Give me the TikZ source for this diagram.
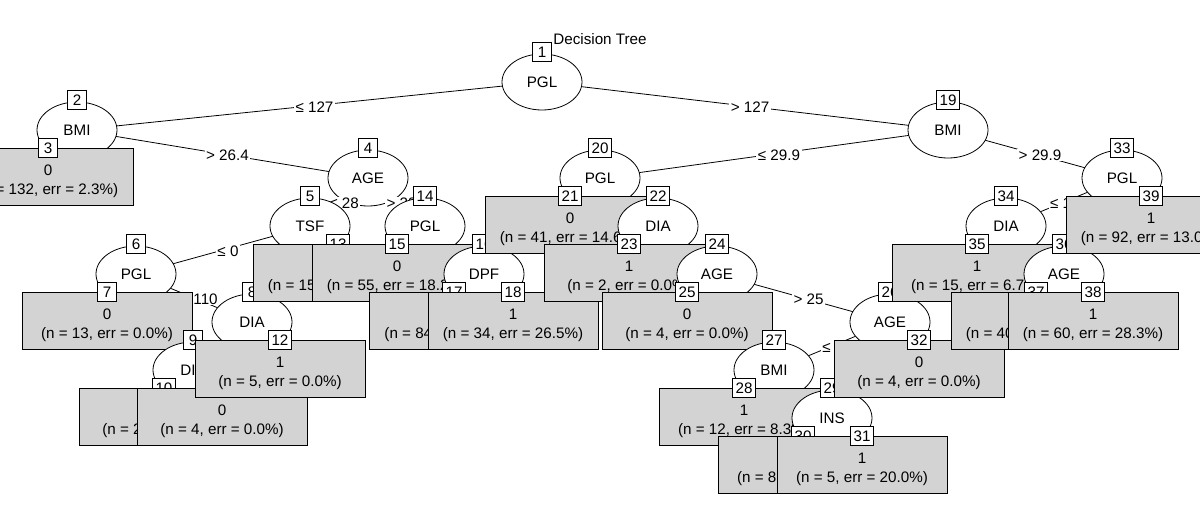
\documentclass[tikz,border=0pt]{standalone}
\usepackage{fontspec}
\setmainfont{Liberation Sans}
\usetikzlibrary{shapes.geometric,calc}
\definecolor{termgray}{HTML}{D3D3D3}
\tikzset{
 base/.style={font=\fontsize{15.2}{18}\selectfont},
 ell/.style={base, ellipse, draw, fill=white, line width=0.8pt, minimum width=80pt, minimum height=56pt, inner sep=0pt},
 idbox/.style={base, draw, fill=white, line width=0.8pt, inner xsep=3pt, inner ysep=0pt, minimum width=19pt, minimum height=19pt},
 tbox/.style={draw, fill=termgray, line width=0.8pt, minimum width=170pt, minimum height=57pt, inner sep=0pt},
 ttext/.style={base, inner sep=0pt, anchor=base},
 elabel/.style={base, fill=white, inner xsep=1.5pt, inner ysep=1pt},
 edgeline/.style={line width=0.8pt},
}
\newcommand\splitnode[2]{\node[ell] (n#1) at (c#1) {#2}; \node[idbox] (id#1) at ($(c#1)+(0,30)$) {#1};}
\newcommand\leafnode[3]{\node[tbox] (n#1) at ($(c#1)+(0,1.5)$) {}; \node[idbox] (id#1) at ($(c#1)+(0,30)$) {#1};
  \node[ttext] (k#1) at ($(c#1)+(0,2.5)$) {#2}; \node[ttext] (s#1) at ($(c#1)+(0,-16.5)$) {#3};}
\newcommand\leafhid[2]{\node[tbox] (n#1) at ($(c#1)+(0,1.5)$) {}; \node[idbox] (id#1) at ($(c#1)+(0,30)$) {#1};
  \node[ttext] (s#1) at ($(c#1)+(0,-16.5)$) {#2};}
\newcommand\kidlines[3]{\draw[edgeline] (c#1) -- (c#2); \draw[edgeline] (c#1) -- (c#3);}
\newcommand\edgelab[3]{\node[elabel] (l#1x#2) at ($(c#1)!0.5!(c#2)+(5,-1)$) {#3};}
\begin{document}
\begin{tikzpicture}[x=1pt,y=1pt]
\useasboundingbox (0,0) rectangle (1200,-508);
\fill[white] (0,0) rectangle (1200,-508);
\clip (0,0) rectangle (1200,-508);
\coordinate (c1) at (542,-82);
\coordinate (c2) at (77,-130);
\coordinate (c3) at (48,-178);
\coordinate (c4) at (368,-178);
\coordinate (c5) at (310,-226);
\coordinate (c6) at (136,-274);
\coordinate (c7) at (107,-322);
\coordinate (c8) at (252,-322);
\coordinate (c9) at (193,-370);
\coordinate (c10) at (164,-418);
\coordinate (c11) at (222,-418);
\coordinate (c12) at (280,-370);
\coordinate (c13) at (338,-274);
\coordinate (c14) at (425,-226);
\coordinate (c15) at (397,-274);
\coordinate (c16) at (484,-274);
\coordinate (c17) at (454,-322);
\coordinate (c18) at (513,-322);
\coordinate (c19) at (948,-130);
\coordinate (c20) at (600,-178);
\coordinate (c21) at (570,-226);
\coordinate (c22) at (658,-226);
\coordinate (c23) at (629,-274);
\coordinate (c24) at (717,-274);
\coordinate (c25) at (687,-322);
\coordinate (c26) at (890,-322);
\coordinate (c27) at (774,-370);
\coordinate (c28) at (744,-418);
\coordinate (c29) at (832,-418);
\coordinate (c30) at (803,-466);
\coordinate (c31) at (862,-466);
\coordinate (c32) at (919,-370);
\coordinate (c33) at (1122,-178);
\coordinate (c34) at (1006,-226);
\coordinate (c35) at (977,-274);
\coordinate (c36) at (1064,-274);
\coordinate (c37) at (1036,-322);
\coordinate (c38) at (1093,-322);
\coordinate (c39) at (1151,-226);
% node 1
\kidlines{1}{2}{19}
\splitnode{1}{PGL}
\edgelab{1}{2}{≤ 127}
\edgelab{1}{19}{> 127}
% node 2
\kidlines{2}{3}{4}
\splitnode{2}{BMI}
\edgelab{2}{4}{> 26.4}
\leafnode{3}{0}{(n = 132, err = 2.3\%)}
% node 4
\kidlines{4}{5}{14}
\splitnode{4}{AGE}
\edgelab{4}{5}{≤ 28}
\edgelab{4}{14}{> 28}
% node 5
\kidlines{5}{6}{13}
\splitnode{5}{TSF}
\edgelab{5}{6}{≤ 0}
% node 6
\kidlines{6}{7}{8}
\splitnode{6}{PGL}
\edgelab{6}{8}{> 110}
\leafnode{7}{0}{(n = 13, err = 0.0\%)}
% node 8
\kidlines{8}{9}{12}
\splitnode{8}{DIA}
% node 9
\kidlines{9}{10}{11}
\splitnode{9}{DIA}
\leafhid{10}{(n = 2, err = 0.0\%)}
\leafnode{11}{0}{(n = 4, err = 0.0\%)}
\leafnode{12}{1}{(n = 5, err = 0.0\%)}
\leafhid{13}{(n = 15, err = 13.3\%)}
% node 14
\kidlines{14}{15}{16}
\splitnode{14}{PGL}
\leafnode{15}{0}{(n = 55, err = 18.2\%)}
% node 16
\kidlines{16}{17}{18}
\splitnode{16}{DPF}
\leafhid{17}{(n = 84, err = 11.9\%)}
\leafnode{18}{1}{(n = 34, err = 26.5\%)}
% node 19
\kidlines{19}{20}{33}
\splitnode{19}{BMI}
\edgelab{19}{20}{≤ 29.9}
\edgelab{19}{33}{> 29.9}
% node 20
\kidlines{20}{21}{22}
\splitnode{20}{PGL}
\leafnode{21}{0}{(n = 41, err = 14.6\%)}
% node 22
\kidlines{22}{23}{24}
\splitnode{22}{DIA}
\leafnode{23}{1}{(n = 2, err = 0.0\%)}
% node 24
\kidlines{24}{25}{26}
\splitnode{24}{AGE}
\edgelab{24}{26}{> 25}
\leafnode{25}{0}{(n = 4, err = 0.0\%)}
% node 26
\kidlines{26}{27}{32}
\splitnode{26}{AGE}
\edgelab{26}{27}{≤ 30}
% node 27
\kidlines{27}{28}{29}
\splitnode{27}{BMI}
\leafnode{28}{1}{(n = 12, err = 8.3\%)}
% node 29
\kidlines{29}{30}{31}
\splitnode{29}{INS}
\leafhid{30}{(n = 8, err = 12.5\%)}
\leafnode{31}{1}{(n = 5, err = 20.0\%)}
\leafnode{32}{0}{(n = 4, err = 0.0\%)}
% node 33
\kidlines{33}{34}{39}
\splitnode{33}{PGL}
\edgelab{33}{34}{≤ 157}
% node 34
\kidlines{34}{35}{36}
\splitnode{34}{DIA}
\leafnode{35}{1}{(n = 15, err = 6.7\%)}
% node 36
\kidlines{36}{37}{38}
\splitnode{36}{AGE}
\leafhid{37}{(n = 40, err = 40.0\%)}
\leafnode{38}{1}{(n = 60, err = 28.3\%)}
\leafnode{39}{1}{(n = 92, err = 13.0\%)}
\node[base] (title) at (600,-39) {Decision Tree};
\end{tikzpicture}
\end{document}
